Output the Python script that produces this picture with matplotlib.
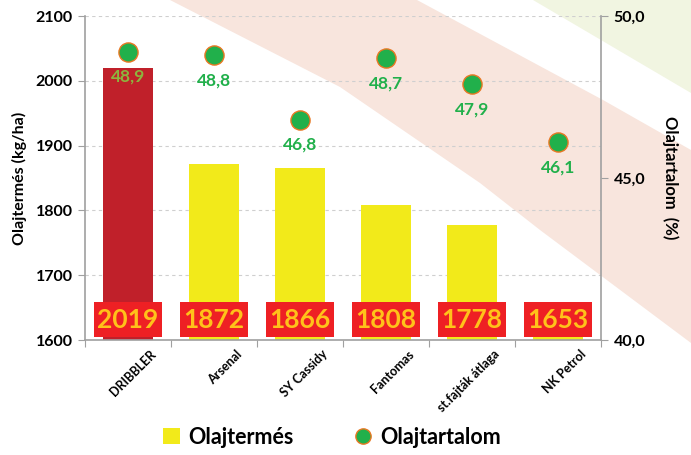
import matplotlib
matplotlib.use("Agg")
import matplotlib.pyplot as plt
from matplotlib.patches import Polygon, Rectangle
from matplotlib.lines import Line2D
import numpy as np

categories = ["DRIBBLER", "Arsenal", "SY Cassidy", "Fantomas", "st.fajták átlaga", "NK Petrol"]
oil_yield = [2019, 1872, 1866, 1808, 1778, 1653]
oil_content = [48.9, 48.8, 46.8, 48.7, 47.9, 46.1]
yield_ticks = [1600, 1700, 1800, 1900, 2000, 2100]
content_ticks = [40.0, 45.0, 50.0]

W, H = 691, 455
plt.rcParams['font.family'] = ['Lato', 'DejaVu Sans']
fig = plt.figure(figsize=(W / 100, H / 100), dpi=100)

def fp(pts):
    return [(x / W, 1 - y / H) for x, y in pts]

# decorative background bands
pink = fp([(170, 0), (340, 87), (480, 183), (540, 230), (691, 343), (691, 150), (603, 100), (417, 0)])
green = fp([(533, 0), (691, 93), (691, 0)])
fig.patches.append(Polygon(pink, closed=True, transform=fig.transFigure, facecolor="#F8E5DD", edgecolor="none", zorder=-5))
fig.patches.append(Polygon(green, closed=True, transform=fig.transFigure, facecolor="#F1F5E1", edgecolor="none", zorder=-5))

ax = fig.add_axes([85 / W, 1 - 340 / H, (601 - 85) / W, (340 - 16) / H])
ax.set_facecolor("none")
x = np.arange(len(categories))
colors = ["#C0202A"] + ["#F2EA1A"] * (len(categories) - 1)
ax.bar(x, oil_yield, width=0.58, color=colors, zorder=2)
ax.set_ylim(1600, 2100)
ax.set_xlim(-0.5, len(categories) - 0.5)
ax.set_yticks(yield_ticks)
ax.set_yticklabels([str(t) for t in yield_ticks], fontsize=11.5, fontweight="bold")
ax.yaxis.grid(True, linestyle=(0, (3, 3)), color="#CFCFCF", linewidth=0.8, zorder=0)
ax.set_axisbelow(True)
ax.spines["top"].set_visible(False)
ax.spines["right"].set_visible(False)
for s in ["left", "bottom"]:
    ax.spines[s].set_color("#A0A0A0")
    ax.spines[s].set_linewidth(1.2)
ax.tick_params(axis="y", length=5, color="#A0A0A0", pad=4)
ax.set_xticks(np.arange(-0.5, len(categories), 1.0))
ax.set_xticklabels([""] * (len(categories) + 1))
ax.tick_params(axis="x", length=5, color="#A0A0A0")
for i, c in enumerate(categories):
    ax.text(i + 0.25, 1600 - 12, c, rotation=45, ha="right", va="top", fontsize=9,
            fontweight="bold", rotation_mode="anchor")
ax.set_ylabel("Olajtermés (kg/ha)", fontsize=11.5, fontweight="bold", labelpad=6)

# value boxes
for i, v in enumerate(oil_yield):
    ax.add_patch(Rectangle((i - 0.39, 1605), 0.78, 54, facecolor="#EE2024", edgecolor="none", zorder=4))
    ax.text(i, 1631, str(v), ha="center", va="center", fontsize=19, fontweight="bold",
            color="#FFC21A", zorder=5)

ax2 = ax.twinx()
ax2.set_ylim(40, 50)
ax2.set_yticks(content_ticks)
ax2.set_yticklabels([f"{t:.1f}".replace(".", ",") for t in content_ticks], fontsize=11.5, fontweight="bold")
for s in ["top", "left", "bottom"]:
    ax2.spines[s].set_visible(False)
ax2.spines["right"].set_color("#A0A0A0")
ax2.spines["right"].set_linewidth(1.2)
ax2.tick_params(axis="y", length=5, color="#A0A0A0", pad=4)
ax2.set_ylabel("Olajtartalom  (%)", fontsize=12, fontweight="bold", rotation=-90, labelpad=24)
ax2.scatter(x, oil_content, s=190, color="#21B04B", edgecolor="#E87722", linewidth=1.0, zorder=6)
lab_colors = ["#8DB43E"] + ["#21B04B"] * (len(categories) - 1)
for i, v in enumerate(oil_content):
    ax2.text(i, v - 0.78, f"{v:.1f}".replace(".", ","), ha="center", va="center",
             fontsize=12.5, fontweight="bold", color=lab_colors[i], zorder=7)

handles = [Rectangle((0, 0), 1, 1, facecolor="#F2EA1A", edgecolor="none"),
           Line2D([], [], marker="o", linestyle="none", markersize=11,
                  markerfacecolor="#21B04B", markeredgecolor="#E87722")]
fig.legend(handles, ["Olajtermés", "Olajtartalom"], loc="center", bbox_to_anchor=(0.48, 1 - 437 / H),
           ncol=2, frameon=False, prop={"size": 15.5, "weight": "bold"}, handlelength=0.8,
           handleheight=0.8, columnspacing=2.8, handletextpad=0.4)

fig.savefig("out.png", dpi=100)
